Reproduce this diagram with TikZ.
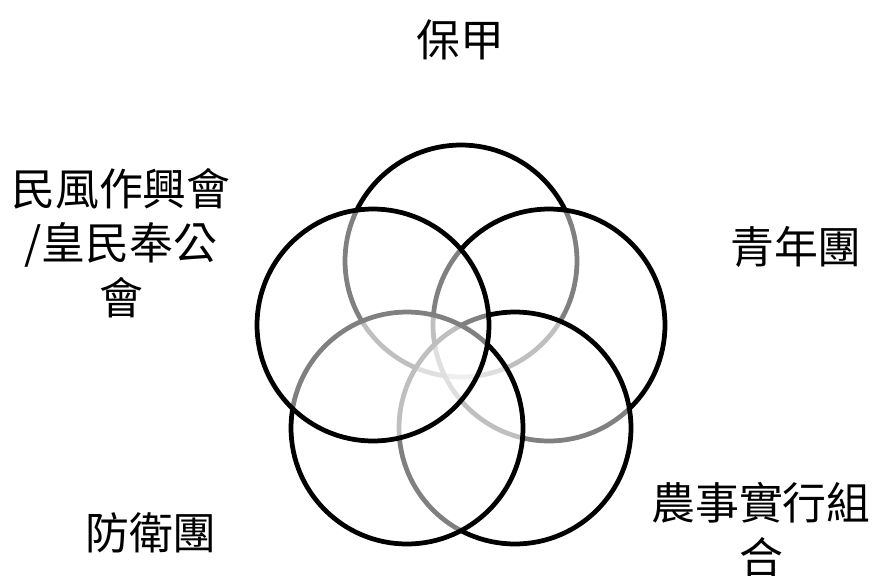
\documentclass[tikz,border=0pt]{standalone}
\usepackage{fontspec}
\newfontfamily\cjkfont{Noto Sans CJK TC}

\begin{document}
\begin{tikzpicture}[
    x=0.02cm, y=-0.02cm,
    ring/.style={circle, draw=black, line width=0.095cm, fill=white, fill opacity=0.5, minimum size=4.64cm, inner sep=0pt},
    tag/.style={font=\cjkfont\fontsize{25}{31}\selectfont, align=center, inner sep=0pt}
]
    \useasboundingbox (0,0) rectangle (878,575);

    % circles, back to front
    \node[ring] (baojia)  at (461,261) {};
    \node[ring] (qingnian) at (549,325) {};
    \node[ring] (nongshi) at (515,428) {};
    \node[ring] (fangwei) at (407,428) {};
    \node[ring] (minfeng) at (373,325) {};

    % labels
    \node[tag] (lbaojia)   at (460,40)  {保甲};
    \node[tag] (lqingnian) at (796,247) {青年團};
    \node[tag] (lnongshi)  at (761,530) {農事實行組\\合};
    \node[tag] (lfangwei)  at (151,533) {防衛團};
    \node[tag] (lminfeng)  at (121,243) {民風作興會\\/皇民奉公\\會};
\end{tikzpicture}
\end{document}
